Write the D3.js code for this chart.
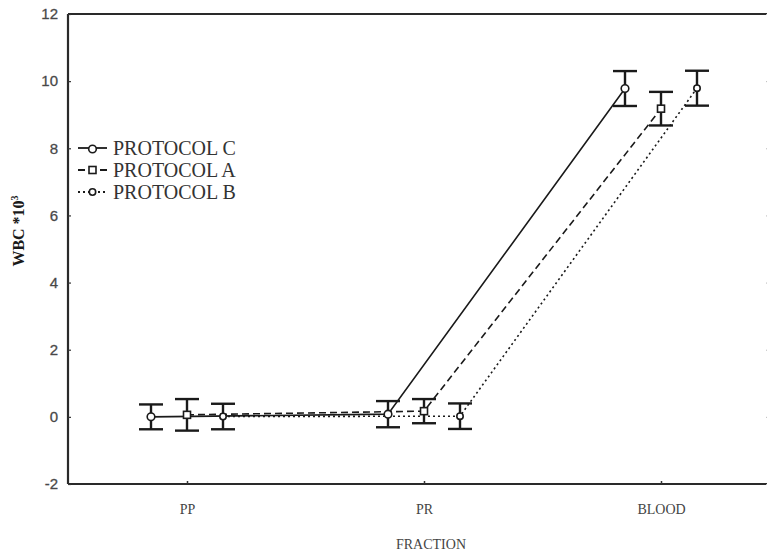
<!DOCTYPE html>
<html><head><meta charset="utf-8">
<script src="https://cdn.jsdelivr.net/npm/d3@7"></script>
<style>html,body{margin:0;padding:0;background:#fff;overflow:hidden}</style>
</head><body>
<svg id="chart" width="767" height="558"></svg>
<script>
const categories = ["PP", "PR", "BLOOD"];
const seriesNames = ["PROTOCOL C", "PROTOCOL A", "PROTOCOL B"];
const meanC = [0.00, 0.08, 9.78];
const errC  = [0.37, 0.39, 0.52];
const meanA = [0.06, 0.17, 9.18];
const errA  = [0.47, 0.36, 0.50];
const meanB = [0.01, 0.02, 9.79];
const errB  = [0.38, 0.38, 0.52];
const yTicks = [-2, 0, 2, 4, 6, 8, 10, 12];
const xTitle = "FRACTION";
const yTitle = "WBC *10";

const series = [
  {name: seriesNames[0], mean: meanC, err: errC, dash: null, marker: "circle"},
  {name: seriesNames[1], mean: meanA, err: errA, dash: "7,4", marker: "square"},
  {name: seriesNames[2], mean: meanB, err: errB, dash: "2,3", marker: "smallcircle"}
];

const svg = d3.select("#chart");
const L = 68, T = 14, B = 484, R = 769;
const y = d3.scaleLinear().domain([-2, 12]).range([B, T]);
const x = d3.scalePoint().domain(categories).range([187, 661]);
const off = d3.scalePoint().domain(seriesNames).range([-36, 36]);
const ink = "#1a1a1a";

// frame
const frame = svg.append("g");
frame.append("line").attr("x1", L).attr("x2", R).attr("y1", T).attr("y2", T);
frame.append("line").attr("x1", L).attr("x2", R).attr("y1", B).attr("y2", B);
frame.append("line").attr("x1", L).attr("x2", L).attr("y1", T).attr("y2", B);
frame.selectAll("line").attr("stroke", "#2a2a2a").attr("stroke-width", 2.2);

// y axis
const yAxis = d3.axisLeft(y).tickValues(yTicks).tickSize(-3).tickPadding(10).tickFormat(d => String(d));
const gy = svg.append("g").attr("transform", `translate(${L},0)`).call(yAxis);
gy.select(".domain").remove();
gy.selectAll("line").attr("stroke", "#333").attr("stroke-width", 1.2);
gy.selectAll("text").attr("font-family", "Liberation Sans, Arial, sans-serif")
  .attr("font-size", 15).attr("fill", "#444").attr("x", -10)
  .attr("stroke", "#555").attr("stroke-width", 0.3);
// right axis ticks (frame continues beyond the edge)
const gy2 = svg.append("g").attr("transform", `translate(${R},0)`)
  .call(d3.axisRight(y).tickValues(yTicks).tickSize(-3).tickFormat(""));
gy2.select(".domain").remove();
gy2.selectAll("line").attr("stroke", "#bbb");

// x axis
const gx = svg.append("g").attr("transform", `translate(0,${B})`)
  .call(d3.axisBottom(x).tickSize(-3).tickPadding(20));
gx.select(".domain").remove();
gx.selectAll("line").attr("stroke", "#333").attr("stroke-width", 1.5);
gx.selectAll("text").attr("font-family", "Liberation Serif, Times New Roman, serif")
  .attr("font-size", 14).attr("fill", "#444");

// titles
svg.append("text").attr("x", 431).attr("y", 549).attr("text-anchor", "middle")
  .attr("font-family", "Liberation Serif, Times New Roman, serif").attr("font-size", 14)
  .attr("fill", "#444").text(xTitle);
const yt = svg.append("text").attr("transform", "translate(24,231) rotate(-90)")
  .attr("text-anchor", "middle").attr("font-family", "Liberation Serif, Times New Roman, serif")
  .attr("font-size", 16).attr("font-weight", "bold").attr("fill", "#1a1a1a");
yt.append("tspan").text(yTitle);
yt.append("tspan").attr("dy", -6).attr("font-size", 10).text("3");

// lines
const lineGen = d3.line();
series.forEach(s => {
  const pts = categories.map((c, i) => [x(c) + off(s.name), y(s.mean[i])]);
  svg.append("path").attr("d", lineGen(pts)).attr("fill", "none").attr("stroke", ink)
    .attr("stroke-width", 1.6).attr("stroke-dasharray", s.dash);
});

// error bars
series.forEach(s => {
  categories.forEach((c, i) => {
    const cx = x(c) + off(s.name);
    const g = svg.append("g").attr("stroke", ink).attr("stroke-width", 2.4);
    g.append("line").attr("x1", cx).attr("x2", cx).attr("y1", y(s.mean[i] + s.err[i])).attr("y2", y(s.mean[i] - s.err[i]));
    g.append("line").attr("x1", cx - 12).attr("x2", cx + 12).attr("y1", y(s.mean[i] + s.err[i])).attr("y2", y(s.mean[i] + s.err[i]));
    g.append("line").attr("x1", cx - 12).attr("x2", cx + 12).attr("y1", y(s.mean[i] - s.err[i])).attr("y2", y(s.mean[i] - s.err[i]));
  });
});

function drawMarker(g, type, cx, cy) {
  if (type === "square") {
    g.append("rect").attr("x", cx - 3.5).attr("y", cy - 3.5).attr("width", 7).attr("height", 7)
      .attr("fill", "#fff").attr("stroke", ink).attr("stroke-width", 1.6);
  } else {
    g.append("circle").attr("cx", cx).attr("cy", cy).attr("r", type === "circle" ? 3.8 : 3.2)
      .attr("fill", "#fff").attr("stroke", ink).attr("stroke-width", 1.6);
  }
}

// markers
series.forEach(s => {
  categories.forEach((c, i) => drawMarker(svg, s.marker, x(c) + off(s.name), y(s.mean[i])));
});

// legend
const lg = svg.append("g");
series.forEach((s, i) => {
  const ly = 148 + i * 22;
  lg.append("line").attr("x1", 78).attr("x2", 107).attr("y1", ly).attr("y2", ly)
    .attr("stroke", ink).attr("stroke-width", 1.8).attr("stroke-dasharray", s.dash);
  drawMarker(lg, s.marker, 92.5, ly + (i === 0 ? 1 : 0));
  lg.append("text").attr("x", 113).attr("y", ly + 7)
    .attr("font-family", "Liberation Serif, Times New Roman, serif").attr("font-size", 20)
    .attr("fill", "#333").text(s.name);
});
</script>
</body></html>
